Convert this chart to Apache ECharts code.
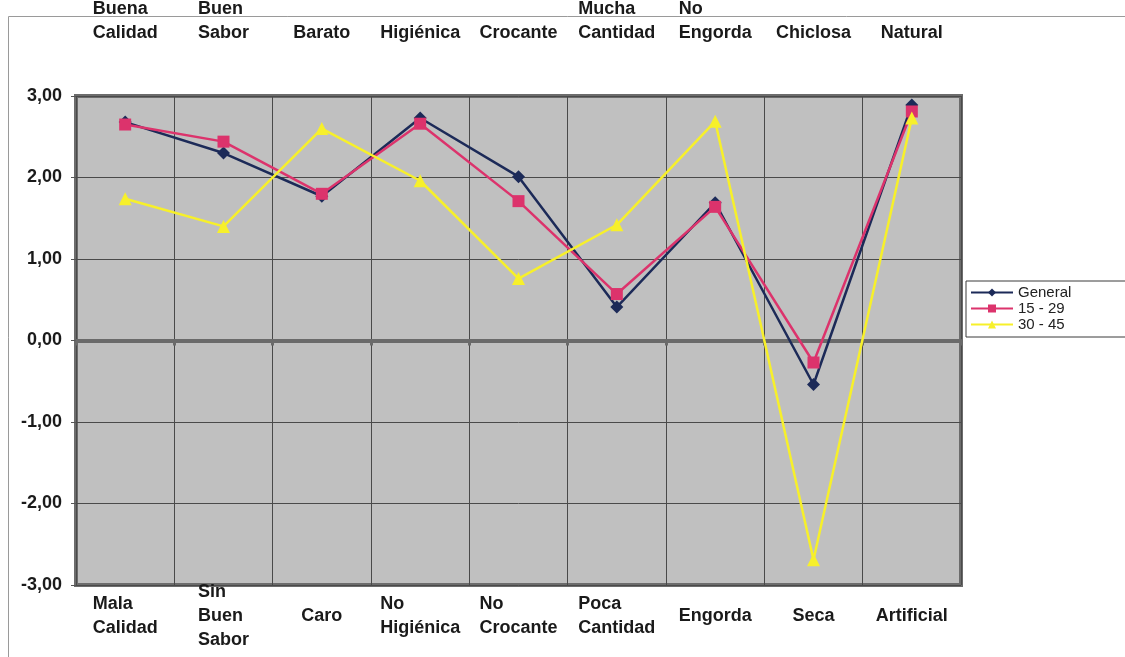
<!DOCTYPE html>
<html>
<head>
<meta charset="utf-8">
<script src="https://cdn.jsdelivr.net/npm/echarts@6/dist/echarts.min.js"></script>
<style>
  html, body { margin: 0; padding: 0; background: #ffffff; }
  #chart { width: 1125px; height: 657px; }
</style>
</head>
<body>
<div id="chart"></div>
<script>
// Attribute pairs: positive pole on top, negative pole at the bottom
const topLabels = ['Buena\nCalidad', 'Buen\nSabor', 'Barato', 'Higiénica', 'Crocante',
                   'Mucha\nCantidad', 'No\nEngorda', 'Chiclosa', 'Natural'];
const bottomLabels = ['Mala\nCalidad', 'Sin\nBuen\nSabor', 'Caro', 'No\nHigiénica', 'No\nCrocante',
                      'Poca\nCantidad', 'Engorda', 'Seca', 'Artificial'];

const seriesNames = ['General', '15 - 29', '30 - 45'];
const general = [2.68, 2.30, 1.77, 2.73, 2.01, 0.41, 1.69, -0.54, 2.89];
const age15to29 = [2.65, 2.44, 1.80, 2.66, 1.71, 0.57, 1.64, -0.27, 2.81];
const age30to45 = [1.74, 1.40, 2.60, 1.96, 0.76, 1.42, 2.69, -2.69, 2.73];

const yMin = -3, yMax = 3, yStep = 1;

const labelFont = {
  fontFamily: 'Liberation Sans, Arial, sans-serif',
  fontWeight: 'bold',
  fontSize: 18,
  color: '#1a1a1a'
};

// Wrap each line in a left-aligned rich token so multi-line labels form a left-aligned block
function blockLabel(v) {
  return v.split('\n').map(l => '{l|' + l + '}').join('\n');
}

const chart = echarts.init(document.getElementById('chart'), null, { renderer: 'canvas' });

const option = {
  backgroundColor: '#ffffff',
  animation: false,
  graphic: [{
    type: 'rect',
    silent: true,
    shape: { x: 8.5, y: 16.5, width: 1300, height: 800 },
    style: { fill: 'none', stroke: '#9a9a9a', lineWidth: 1 }
  }],
  grid: {
    left: 76, right: 164, top: 96, bottom: 72,
    show: true,
    backgroundColor: '#c0c0c0',
    borderColor: '#6c6c6c',
    borderWidth: 4
  },
  legend: {
    orient: 'vertical',
    left: 966,
    top: 281,
    data: seriesNames,
    itemWidth: 42,
    itemHeight: 10,
    itemGap: 1,
    padding: [4, 70, 5, 4],
    borderColor: '#3a3a3a',
    borderWidth: 1,
    backgroundColor: '#ffffff',
    textStyle: { fontFamily: 'Liberation Sans, Arial, sans-serif', fontSize: 15, color: '#222' }
  },
  xAxis: [
    {
      type: 'category',
      position: 'bottom',
      data: bottomLabels,
      boundaryGap: true,
      axisLine: { show: false, onZero: false },
      axisTick: { show: false },
      splitLine: { show: true, interval: 0, lineStyle: { color: '#4a4a4a', width: 1 } },
      axisLabel: {
        interval: 0,
        margin: 31,
        verticalAlign: 'middle',
        formatter: blockLabel,
        rich: { l: Object.assign({ align: 'left', lineHeight: 24 }, labelFont) }
      }
    },
    {
      type: 'category',
      position: 'top',
      data: topLabels,
      boundaryGap: true,
      axisLine: { show: false, onZero: false },
      axisTick: { show: false },
      splitLine: { show: false },
      axisLabel: {
        interval: 0,
        margin: 51,
        verticalAlign: 'bottom',
        formatter: blockLabel,
        rich: { l: Object.assign({ align: 'left', lineHeight: 24 }, labelFont) }
      }
    },
    {
      // category axis crossing at zero
      type: 'category',
      position: 'bottom',
      data: bottomLabels,
      boundaryGap: true,
      axisLine: { show: true, onZero: true, lineStyle: { color: '#6a6a6a', width: 4 } },
      axisTick: { show: true, interval: 0, length: 5, lineStyle: { color: '#6a6a6a', width: 3 } },
      axisLabel: { show: false },
      splitLine: { show: false }
    }
  ],
  yAxis: {
    type: 'value',
    min: yMin,
    max: yMax,
    interval: yStep,
    axisLine: { show: false },
    axisTick: { show: true, length: 5, lineStyle: { color: '#555', width: 1 } },
    splitLine: { show: true, lineStyle: { color: '#4a4a4a', width: 1 } },
    axisLabel: {
      margin: 14,
      fontFamily: 'Liberation Sans, Arial, sans-serif',
      fontWeight: 'bold',
      fontSize: 18,
      color: '#1a1a1a',
      formatter: v => v.toFixed(2).replace('.', ',')
    }
  },
  series: [
    {
      name: seriesNames[0],
      type: 'line',
      data: general,
      xAxisIndex: 0,
      symbol: 'diamond',
      symbolSize: 13,
      lineStyle: { color: '#1c2a58', width: 2.5 },
      itemStyle: { color: '#1c2a58' },
      z: 3
    },
    {
      name: seriesNames[1],
      type: 'line',
      data: age15to29,
      xAxisIndex: 0,
      symbol: 'rect',
      symbolSize: 12,
      lineStyle: { color: '#dc336c', width: 2.5 },
      itemStyle: { color: '#dc336c' },
      z: 4
    },
    {
      name: seriesNames[2],
      type: 'line',
      data: age30to45,
      xAxisIndex: 0,
      symbol: 'triangle',
      symbolSize: 13,
      lineStyle: { color: '#f7f02a', width: 2.5 },
      itemStyle: { color: '#f7f02a' },
      z: 5
    }
  ]
};

chart.setOption(option);
</script>
</body>
</html>
